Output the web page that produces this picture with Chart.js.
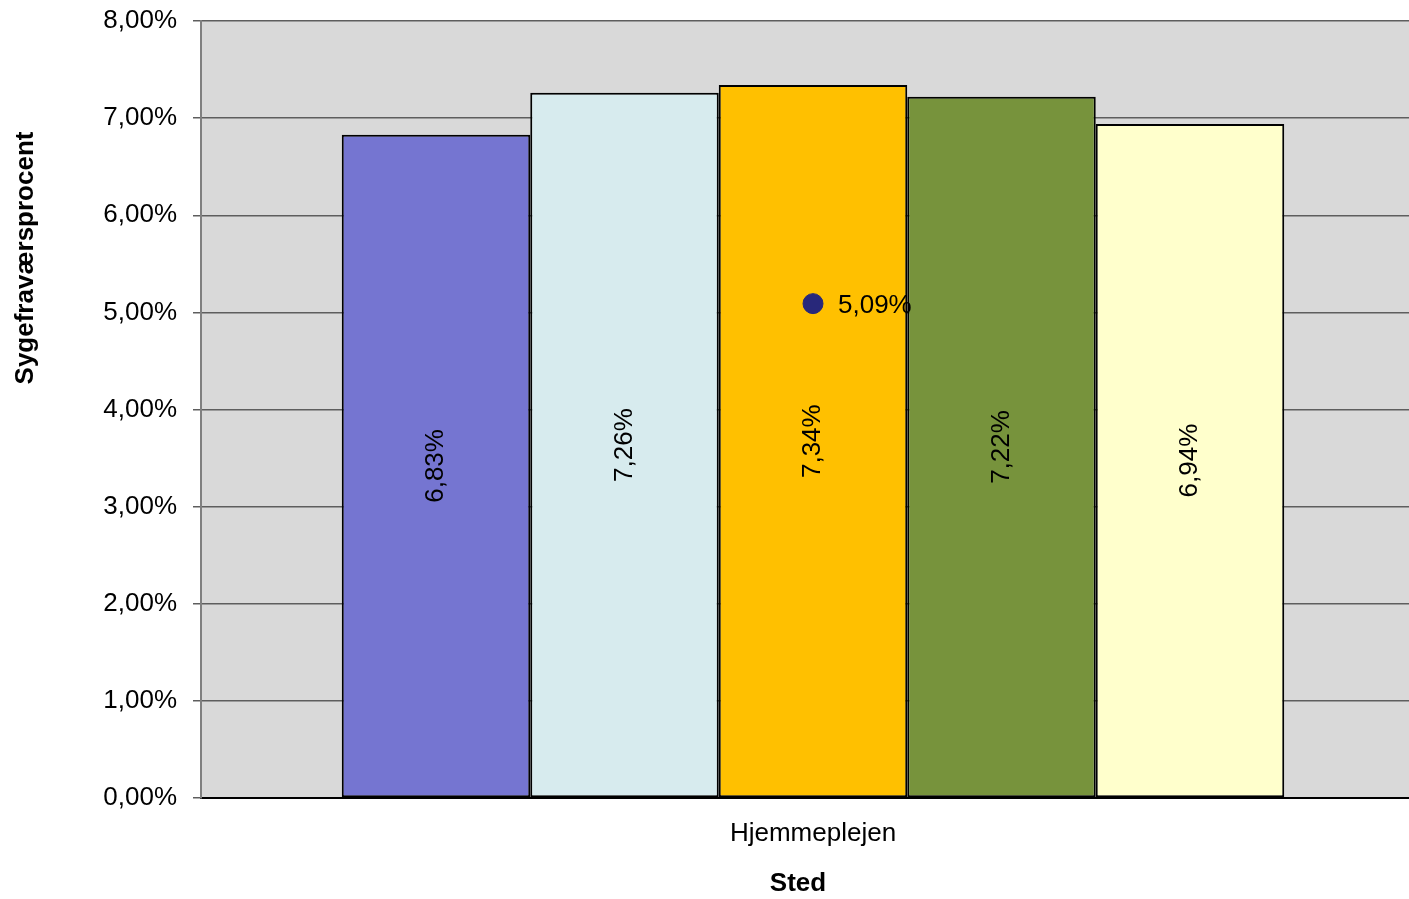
<!DOCTYPE html>
<html>
<head>
<meta charset="utf-8">
<script src="https://cdn.jsdelivr.net/npm/chart.js@4.4.0/dist/chart.umd.min.js"></script>
<style>
  html, body { margin: 0; padding: 0; background: #fff; overflow: hidden; }
  #wrap { width: 1440px; height: 899px; }
</style>
</head>
<body>
<div id="wrap"><canvas id="chartCanvas" width="1440" height="899"></canvas></div>
<script>
const categories = ['Hjemmeplejen'];
const barValues = [0.0683, 0.0726, 0.0734, 0.0722, 0.0694];
const barColors = ['#7575d1', '#d7ebee', '#ffc000', '#77933c', '#ffffcc'];
const pointValue = [0.0509];
const yTicks = [0, 0.01, 0.02, 0.03, 0.04, 0.05, 0.06, 0.07, 0.08];
const yTitle = 'Sygefraværsprocent';
const xTitle = 'Sted';

const FONT = '"Liberation Sans", Arial, sans-serif';

function pct(v) {
    return (v * 100).toFixed(2).replace('.', ',') + '%';
}

const ctx = document.getElementById('chartCanvas').getContext('2d');

// grey plot background, bar labels and axis titles
const decorPlugin = {
    id: 'decor',
    beforeDraw(chart) {
        const a = chart.chartArea;
        const c = chart.ctx;
        c.save();
        c.fillStyle = '#d9d9d9';
        c.fillRect(a.left, a.top, a.right - a.left, a.bottom - a.top);
        c.restore();
    },
    afterDatasetsDraw(chart) {
        const c = chart.ctx;
        c.save();
        c.fillStyle = '#000';
        c.font = '26px ' + FONT;
        chart.data.datasets.forEach((ds, i) => {
            const el = chart.getDatasetMeta(i).data[0];
            if (!el) return;
            if (ds.type === 'bar') {
                const mid = (el.y + el.base) / 2;
                c.save();
                c.translate(el.x, mid);
                c.rotate(-Math.PI / 2);
                c.textAlign = 'center';
                c.textBaseline = 'middle';
                c.fillText(pct(ds.data[0]), 0, 0);
                c.restore();
            } else {
                c.textAlign = 'left';
                c.textBaseline = 'middle';
                c.fillText(pct(ds.data[0]), el.x + 25, el.y + 2);
            }
        });
        c.restore();
    },
    afterDraw(chart) {
        const c = chart.ctx;
        c.save();
        c.fillStyle = '#000';
        c.font = 'bold 26px ' + FONT;
        c.textAlign = 'center';
        c.textBaseline = 'middle';
        c.fillText(xTitle, 798, 884);
        c.translate(26, 258);
        c.rotate(-Math.PI / 2);
        c.fillText(yTitle, 0, 0);
        c.restore();
    }
};

const datasets = barValues.map((v, i) => ({
    type: 'bar',
    data: [v],
    backgroundColor: barColors[i],
    borderColor: '#000',
    borderWidth: 2,
    borderSkipped: false,
    barPercentage: 1,
    categoryPercentage: 0.77,
    order: 1
}));
datasets.push({
    type: 'line',
    data: pointValue,
    showLine: false,
    pointRadius: 10,
    pointBackgroundColor: '#28287a',
    pointBorderColor: '#28287a',
    order: 0
});

new Chart(ctx, {
    data: { labels: categories, datasets: datasets },
    options: {
        responsive: false,
        animation: false,
        layout: { padding: { top: 21, right: 15, left: 0, bottom: 0 } },
        plugins: { legend: { display: false }, tooltip: { enabled: false } },
        scales: {
            x: {
                grid: { display: false, drawTicks: false },
                border: { color: '#000', width: 2 },
                ticks: { color: '#000', font: { size: 26, family: FONT }, padding: 20 },
                afterFit(s) { s.height = 101; s.paddingLeft = 0; s.paddingRight = 0; }
            },
            y: {
                min: 0,
                max: 0.08,
                afterBuildTicks(s) { s.ticks = yTicks.map(v => ({ value: v })); },
                grid: { color: '#5e5e5e', lineWidth: 1.5, tickLength: 8, tickColor: '#5e5e5e' },
                border: { color: '#808080', width: 2 },
                ticks: {
                    color: '#000',
                    font: { size: 26, family: FONT },
                    padding: 16,
                    callback: v => pct(v)
                },
                afterFit(s) { s.width = 201; s.paddingTop = 0; s.paddingBottom = 0; }
            }
        }
    },
    plugins: [decorPlugin]
});
</script>
</body>
</html>
